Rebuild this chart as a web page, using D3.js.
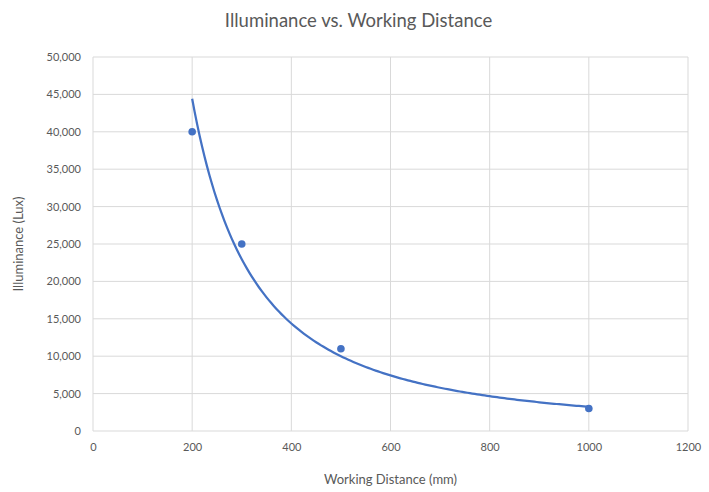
<!DOCTYPE html>
<html>
<head>
<meta charset="utf-8">
<script src="https://cdn.jsdelivr.net/npm/d3@7"></script>
<style>
  body { margin: 0; background: #fff; }
  text { font-family: Lato, "Open Sans", sans-serif; fill: #595959; }
</style>
</head>
<body>
<div id="chart"></div>
<script>
// data
const distances = [200, 300, 500, 1000];
const illuminance = [40000, 25000, 11000, 3000];
const xTicks = [0, 200, 400, 600, 800, 1000, 1200];
const yTicks = [0, 5000, 10000, 15000, 20000, 25000, 30000, 35000, 40000, 45000, 50000];

let margin = { top: 57, right: 21, bottom: 61, left: 93 };
let W = 709, H = 492;
let width = W - margin.left - margin.right;
let height = H - margin.top - margin.bottom;

let svg = d3.select("#chart").append("svg")
  .attr("width", W).attr("height", H);

let g = svg.append("g")
  .attr("transform", "translate(" + margin.left + "," + margin.top + ")");

let x = d3.scaleLinear().domain([0, 1200]).range([0, width]);
let y = d3.scaleLinear().domain([0, 50000]).range([height, 0]);

// gridlines
g.append("g").selectAll("line.h").data(yTicks).enter().append("line")
  .attr("x1", 0).attr("x2", width)
  .attr("y1", d => y(d)).attr("y2", d => y(d))
  .attr("stroke", "#d9d9d9").attr("stroke-width", 1);
g.append("g").selectAll("line.v").data(xTicks).enter().append("line")
  .attr("y1", 0).attr("y2", height)
  .attr("x1", d => x(d)).attr("x2", d => x(d))
  .attr("stroke", "#d9d9d9").attr("stroke-width", 1);

// axes (labels only)
let fmt = d3.format(",");
let xAxis = g.append("g")
  .attr("transform", "translate(0," + height + ")")
  .call(d3.axisBottom(x).tickValues(xTicks).tickSize(0).tickPadding(12).tickFormat(d => d));
let yAxis = g.append("g")
  .call(d3.axisLeft(y).tickValues(yTicks).tickSize(0).tickPadding(12).tickFormat(fmt));
[xAxis, yAxis].forEach(a => {
  a.select(".domain").remove();
  a.selectAll("text").style("font-size", "11px").style("fill", "#595959")
    .style("font-family", "Lato, 'Open Sans', sans-serif");
});

// power trendline fitted from the points (least squares in log space, like Excel)
let lx = distances.map(Math.log), ly = illuminance.map(Math.log);
let mx = d3.mean(lx), my = d3.mean(ly);
let b = d3.sum(lx, (v, i) => (v - mx) * (ly[i] - my)) / d3.sum(lx, v => (v - mx) * (v - mx));
let a = Math.exp(my - b * mx);
let curve = d3.range(200, 1001, 5).map(d => [d, a * Math.pow(d, b)]);

g.append("path")
  .datum(curve)
  .attr("fill", "none")
  .attr("stroke", "#4472C4")
  .attr("stroke-width", 2.25)
  .attr("d", d3.line().x(d => x(d[0])).y(d => y(d[1])));

g.selectAll("circle")
  .data(distances)
  .enter()
  .append("circle")
  .attr("cx", d => x(d))
  .attr("cy", (d, i) => y(illuminance[i]))
  .attr("r", 3.8)
  .attr("fill", "#4472C4");

// titles
svg.append("text")
  .attr("x", W / 2 + 4).attr("y", 27)
  .attr("text-anchor", "middle")
  .style("font-size", "18.5px")
  .text("Illuminance vs. Working Distance");

svg.append("text")
  .attr("x", margin.left + width / 2).attr("y", 484)
  .attr("text-anchor", "middle")
  .style("font-size", "13px")
  .text("Working Distance (mm)");

svg.append("text")
  .attr("transform", "translate(23," + (margin.top + height / 2) + ") rotate(-90)")
  .attr("text-anchor", "middle")
  .style("font-size", "13px")
  .text("Illuminance (Lux)");
</script>
</body>
</html>
